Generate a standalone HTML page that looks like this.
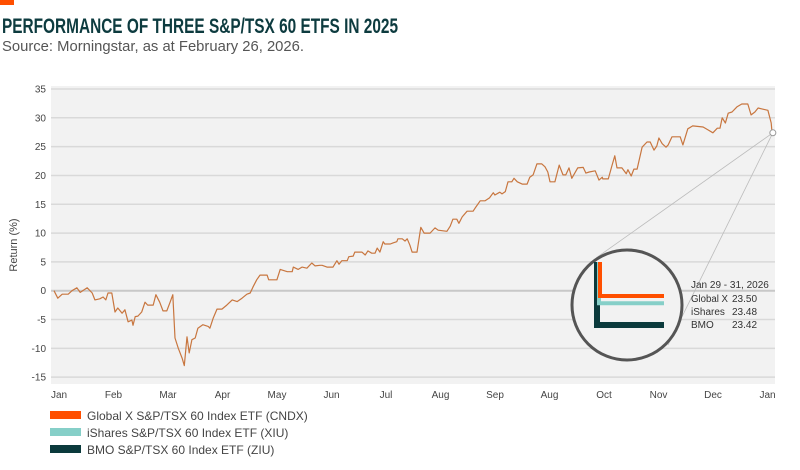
<!DOCTYPE html>
<html><head><meta charset="utf-8">
<style>
body{margin:0;background:#fff;width:800px;height:470px;overflow:hidden;font-family:"Liberation Sans",sans-serif;}
svg{display:block}
</style></head>
<body>
<svg id="chart" width="800" height="470" font-family="Liberation Sans, sans-serif">
<rect x="0" y="0" width="14" height="5" fill="#ff4f00"/>
<text x="2" y="33" font-size="21" font-weight="bold" fill="#0d3b3f" textLength="396" lengthAdjust="spacingAndGlyphs">PERFORMANCE OF THREE S&amp;P/TSX 60 ETFS IN 2025</text>
<text x="2" y="51" font-size="15" fill="#555" textLength="302" lengthAdjust="spacingAndGlyphs">Source: Morningstar, as at February 26, 2026.</text>
<rect x="51" y="86" width="724" height="298" fill="#f2f2f2"/>
<g id="grid"></g><g id="yticks"></g><g id="xticks"></g>
<text transform="translate(17,245) rotate(-90)" font-size="11" fill="#444" text-anchor="middle">Return (%)</text>
<g id="series"></g>
<g id="inset"></g>
<g id="legend"></g>
</svg>
<script>
const months = [0,1,2,3,4,5,6,7,8,9,10,11,12,13];
const monthLabels = ["Jan","Feb","Mar","Apr","May","Jun","Jul","Aug","Sep","Aug","Oct","Nov","Dec","Jan"];
const yTicks = [35,30,25,20,15,10,5,0,-5,-10,-15];
const seriesX = [0,.07,.15,.26,.33,.42,.48,.61,.70,.75,.84,.90,.95,.99,1.06,1.12,1.17,1.25,1.30,1.36,1.43,1.45,1.49,1.54,1.61,1.67,1.72,1.82,1.87,1.94,2.00,2.07,2.13,2.18,2.22,2.28,2.35,2.39,2.44,2.48,2.53,2.59,2.64,2.73,2.83,2.86,2.92,2.99,3.08,3.17,3.27,3.36,3.45,3.54,3.60,3.65,3.72,3.78,3.91,3.94,4.09,4.15,4.28,4.37,4.39,4.48,4.55,4.64,4.73,4.79,4.88,4.92,5.01,5.12,5.19,5.23,5.28,5.38,5.41,5.49,5.52,5.65,5.71,5.76,5.83,5.89,5.93,5.98,6.04,6.07,6.17,6.22,6.29,6.31,6.39,6.44,6.48,6.53,6.57,6.66,6.73,6.79,6.90,6.99,7.05,7.21,7.27,7.32,7.39,7.43,7.49,7.58,7.69,7.74,7.82,7.91,7.99,8.06,8.09,8.18,8.22,8.28,8.33,8.40,8.44,8.50,8.59,8.68,8.73,8.79,8.86,8.95,9.01,9.06,9.10,9.19,9.27,9.34,9.39,9.45,9.50,9.61,9.71,9.76,9.82,9.93,10.00,10.06,10.07,10.17,10.24,10.29,10.33,10.42,10.50,10.53,10.59,10.64,10.70,10.79,10.88,10.94,11.01,11.06,11.10,11.16,11.23,11.27,11.34,11.49,11.54,11.63,11.72,11.91,12.00,12.09,12.17,12.22,12.26,12.32,12.37,12.44,12.53,12.62,12.73,12.79,12.86,12.92,13.01,13.10,13.16,13.17,13.19];
const seriesY = [0,-1.3,-0.6,-0.6,0,0.5,-0.3,0.5,-0.4,-1.6,-1.4,-1.1,-1.6,-0.4,-0.4,-3.7,-3,-3.9,-3.3,-5.4,-5.1,-6,-4.5,-4.4,-3.7,-2,-2.5,-2.5,-0.7,-2,-3.5,-3.5,-2,-0.7,-8.2,-10,-11.7,-13,-8,-10.8,-8.5,-8.2,-6.5,-5.9,-6.2,-6.5,-4.8,-3.2,-3.2,-2.5,-1.6,-1.9,-1.3,-0.6,-0.4,0.6,1.9,2.7,2.7,1.9,1.9,3.7,3.3,3.3,4.1,3.7,4.1,3.9,4.8,4.3,4.4,4.4,4.1,4.1,5.2,4.6,5.2,5.2,5.9,6,6.7,6.7,6.2,6.9,6.5,6.5,7.4,6.7,8.5,8.1,8.1,8.3,8.5,9,9,8.6,9,7.9,6.7,6.7,11,10,10,10.9,10.5,10.3,11.2,12.4,12.4,11.7,12.8,13.8,13.8,14.5,15.6,15.6,16.1,17,16.6,17.1,16.8,17.2,18.9,18.9,19.5,18.9,18.5,18.5,19.7,20.1,22,22,21.5,20.6,18.9,18.9,21.8,20.1,20.1,21.3,19.5,21.3,21.4,20.4,20.6,20.8,19.2,19.7,19.4,19.4,21.8,23.4,21.3,21.3,20.3,21,19.9,21.1,21.1,24.9,25.8,25.8,24.4,25.1,26.5,25.5,24.9,25.3,26.7,26.7,25.3,28.1,28.6,28.4,27.9,27.4,28.2,28.2,30,29.1,30.8,31,31.9,32.4,32.4,30.5,31,31.7,31.5,31.3,29.1,27.9,27.4];
const insetNames = ["Global X","iShares","BMO"];
const insetValues = [23.50,23.48,23.42];
const legendLabels = ["Global X S&P/TSX 60 Index ETF (CNDX)","iShares S&P/TSX 60 Index ETF (XIU)","BMO S&P/TSX 60 Index ETF (ZIU)"];
const seriesColors = ["#ff4f00","#86cfc8","#0b3a3c"];

const NS="http://www.w3.org/2000/svg";
const xS = m => 54 + m*54.5;
const yS = v => 290.7 - v*5.763;
function mk(tag, attrs, parent){const e=document.createElementNS(NS,tag);for(const k in attrs)e.setAttribute(k,attrs[k]);parent.appendChild(e);return e;}
const grid=document.getElementById('grid'), yt=document.getElementById('yticks'), xt=document.getElementById('xticks');
yTicks.forEach(v=>{
  const l=mk('line',{x1:51,x2:775,y1:yS(v),y2:yS(v),stroke:v===0?'#c8c8c8':'#d9d9d9','stroke-width':v===0?2:1.5},grid);
  
  
  const t=mk('text',{x:46,y:yS(v)+3.5,'font-size':10,fill:'#444','text-anchor':'end'},yt);
  t.textContent=v;
  
  
});
months.forEach((m,i)=>{
  const t=mk('text',{x:xS(m)+5,y:398,'font-size':10,fill:'#444','text-anchor':'middle'},xt);
  t.textContent=monthLabels[i];
  
  
});
const s=document.getElementById('series');
const p=mk('path',{d:seriesX.map((m,i)=>(i?'L':'M')+xS(m).toFixed(1)+' '+yS(seriesY[i]).toFixed(1)).join(' '),fill:'none',stroke:'#c8763f','stroke-width':1.2,'stroke-linejoin':'round'},s);



const ins=document.getElementById('inset');
const ex=xS(seriesX[seriesX.length-1]), ey=yS(seriesY[seriesY.length-1]);
mk('line',{x1:ex,y1:ey,x2:596,y2:258,stroke:'#bbb','stroke-width':0.8},ins);
mk('line',{x1:ex,y1:ey,x2:668,y2:345,stroke:'#bbb','stroke-width':0.8},ins);
const mc=mk('circle',{cx:ex,cy:ey,r:3,fill:'#fff',stroke:'#999','stroke-width':1},ins);


const ic=mk('circle',{cx:627,cy:305,r:55,fill:'#f2f2f2',stroke:'#555','stroke-width':3},ins);


const iy = v => 296 + (23.50 - v)*(29/0.08);
const widths=[4,4,6];
[2,1,0].forEach(i=>{
  const yy=iy(insetValues[i]);
  const xv=[600,599,597][i];
  const pl=mk('path',{d:`M${xv} 262 L${xv} ${yy} L664 ${yy}`,fill:'none',stroke:seriesColors[i],'stroke-width':widths[i]},ins);
  
  
});
const h=mk('text',{x:691,y:288,'font-size':10,fill:'#333'},ins);
h.textContent='Jan 29 - 31, 2026';


insetNames.forEach((n,i)=>{
  const attrs={x:691,y:302+i*13,'font-size':10,fill:'#333'};
  if(i===0){attrs.textLength=37;attrs.lengthAdjust='spacingAndGlyphs';}
  const a=mk('text',attrs,ins);a.textContent=n;
  
  
  const b=mk('text',{x:732,y:302+i*13,'font-size':10,fill:'#333'},ins);b.textContent=insetValues[i].toFixed(2);
  
  
});
const lg=document.getElementById('legend');
legendLabels.forEach((n,i)=>{
  const r=mk('rect',{x:50,y:411+i*17,width:31,height:8,fill:seriesColors[i]},lg);
  
  
  const t=mk('text',{x:87,y:420+i*17,'font-size':12,fill:'#444'},lg);t.textContent=n;
  
  
});
</script>
</body></html>
